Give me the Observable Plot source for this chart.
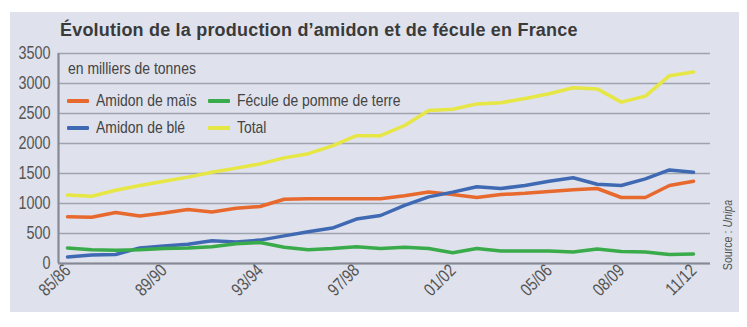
<!DOCTYPE html>
<html><head><meta charset="utf-8">
<script src="https://cdn.jsdelivr.net/npm/d3@7"></script>
<script src="https://cdn.jsdelivr.net/npm/@observablehq/plot@0.6"></script>
<style>
body{margin:0;background:#fff;width:747px;height:327px;position:relative;overflow:hidden;font-family:"Liberation Sans",Arial,sans-serif;}
#panel{position:absolute;left:10px;top:12px;width:729px;height:300px;background:#dfe2ec;}
#title{position:absolute;left:60px;top:20px;font-weight:bold;font-size:18px;letter-spacing:0.2px;color:#3a3a3a;white-space:nowrap;}
#chart{position:absolute;left:0;top:0;}
.cond{transform-origin:0 50%;transform:scaleX(0.82);}
.unit{position:absolute;left:68px;top:59px;font-size:17px;color:#444;white-space:nowrap;}
.leg{position:absolute;font-size:17px;color:#444;display:flex;align-items:center;white-space:nowrap;height:20px;}
.sw{display:inline-block;width:22px;height:4px;margin-right:7px;border-radius:1px;}
.lt{display:inline-block;transform-origin:0 50%;transform:scaleX(0.82);}
#source{position:absolute;left:728px;top:235px;transform:translate(-50%,-50%) rotate(-90deg) scaleX(0.85);font-size:12.5px;color:#555;white-space:nowrap;}
</style></head>
<body>
<div id="panel"></div>
<div id="title">Évolution de la production d’amidon et de fécule en France</div>
<div id="chart"></div>
<div class="unit cond">en milliers de tonnes</div>
<div id="legend"></div>
<div id="source">Source : <i>Unipa</i></div>
<script>
const seasons = ["85/86","86/87","87/88","88/89","89/90","90/91","91/92","92/93","93/94","94/95","95/96","96/97","97/98","98/99","99/00","00/01","01/02","02/03","03/04","04/05","05/06","06/07","07/08","08/09","09/10","10/11","11/12"];
const tickSeasons = ["85/86","89/90","93/94","97/98","01/02","05/06","08/09","11/12"];
const yTicks = [0,500,1000,1500,2000,2500,3000,3500];
const seriesNames = ["Amidon de maïs","Amidon de blé","Fécule de pomme de terre","Total"];
const seriesColors = ["#e8692e","#3f6ab3","#3aab4a","#e6e645"];
const maize  = [780,770,850,790,840,900,860,920,950,1070,1080,1080,1080,1080,1130,1190,1150,1100,1150,1170,1200,1230,1250,1100,1100,1300,1370];
const wheat  = [110,140,150,260,290,320,380,360,390,460,530,590,740,800,970,1110,1190,1280,1250,1300,1370,1430,1320,1300,1410,1560,1520];
const potato = [260,230,220,230,250,260,280,330,350,270,230,250,280,250,270,250,180,250,210,210,210,190,240,200,190,150,160];
const total  = [1140,1120,1220,1300,1370,1440,1520,1590,1660,1760,1830,1960,2130,2130,2300,2550,2570,2660,2680,2750,2830,2930,2910,2690,2790,3130,3190];

const valuesBySeries = [maize, wheat, potato, total];
const drawOrder = [0,1,2,3];
const rows = drawOrder.flatMap(k => valuesBySeries[k].map((v,i)=>({i, v, name: seriesNames[k]})));
const xDomain = [-0.374, 26.706];
const tickIdx = tickSeasons.map(s => seasons.indexOf(s));

const chart = Plot.plot({
  width: 747, height: 310,
  marginTop: 53, marginBottom: 47, marginLeft: 58, marginRight: 37,
  style: {fontFamily: '"Liberation Sans",Arial,sans-serif', fontSize: "18px", color: "#555", background: "transparent", overflow: "visible"},
  x: {type: "linear", domain: xDomain, label: null},
  y: {domain: [0, 3500], label: null},
  color: {domain: seriesNames, range: seriesColors},
  marks: [
    Plot.gridY(yTicks, {stroke: "#9fa3ad", strokeOpacity: 1, strokeWidth: 1.6}),
    Plot.ruleY([0], {stroke: "#868a94", strokeWidth: 2.2}),
    Plot.ruleX([xDomain[0]], {stroke: "#868a94", strokeWidth: 2.2}),
    Plot.lineY(rows, {x: "i", y: "v", z: "name", stroke: "name", strokeWidth: 3.5, strokeLinejoin: "round", strokeLinecap: "round"}),
    Plot.axisY(yTicks, {tickSize: 0, tickPadding: 8, fontSize: 18, fill: "#555", tickFormat: d => String(d)}),
    Plot.axisX(tickIdx, {tickSize: 0, tickPadding: 4, tickRotate: -45, tickFormat: i => seasons[i], fontSize: 18, fill: "#555"})
  ]
});
// condense tick labels horizontally around their anchor point
chart.querySelectorAll("text").forEach(t => {
  const tr = t.getAttribute("transform");
  if (tr) t.setAttribute("transform", `${tr} scale(0.8,1)`);
});
document.getElementById("chart").appendChild(chart);

const legendPos = [[67,91],[67,118],[208,91],[208,118]];
const lg = document.getElementById("legend");
seriesNames.forEach((n,k) => {
  const d = document.createElement("div");
  d.className = "leg";
  d.style.left = legendPos[k][0] + "px";
  d.style.top = legendPos[k][1] + "px";
  d.innerHTML = `<span class="sw" style="background:${seriesColors[k]}"></span><span class="lt">${n}</span>`;
  lg.appendChild(d);
});
</script>
</body></html>
